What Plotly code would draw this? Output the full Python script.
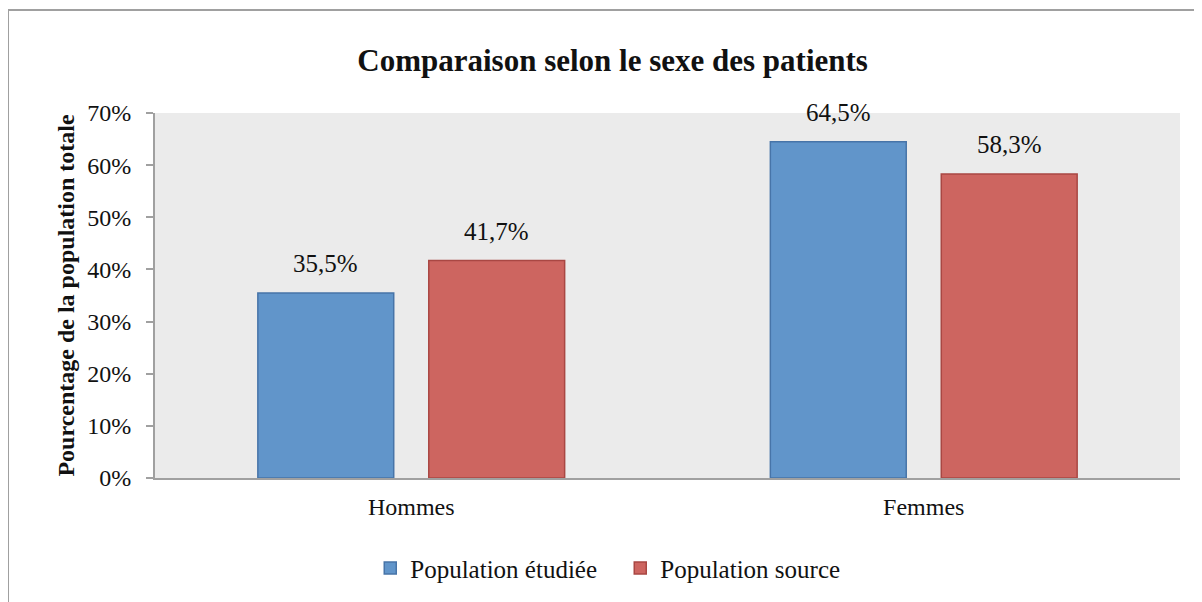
import plotly.graph_objects as go

categories = ["Hommes", "Femmes"]
etudiee = [35.5, 64.5]
source = [41.7, 58.3]
tick_vals = [0, 10, 20, 30, 40, 50, 60, 70]
tick_text = ["0%", "10%", "20%", "30%", "40%", "50%", "60%", "70%"]

FONT = "Liberation Serif"
W, H = 1202, 602
L, R, T, B = 147, 30, 105, 132
BARGAP, GROUPGAP = 0.333, 0.205


def fmt(v):
    return f"{v:.1f}%".replace(".", ",")


fig = go.Figure()

fig.add_trace(go.Bar(
    x=categories, y=etudiee, name="Population étudiée",
    marker=dict(color="#6195CA", line=dict(color="#4774A8", width=1.5)),
))
fig.add_trace(go.Bar(
    x=categories, y=source, name="Population source",
    marker=dict(color="#CD6560", line=dict(color="#A94743", width=1.5)),
))

# labels above bars, shifted onto each bar of the group
cat_w = (W - L - R) / len(categories)
slot = cat_w * (1 - BARGAP) / 2
annotations = []
for series, sign in ((etudiee, -1), (source, 1)):
    for cat, v in zip(categories, series):
        annotations.append(dict(
            x=cat, y=v, xref="x", yref="y", text=fmt(v), showarrow=False,
            xshift=sign * slot / 2, yshift=14, yanchor="bottom",
            font=dict(family=FONT, size=25, color="#111111"),
        ))

fig.update_layout(
    width=W, height=H,
    margin=dict(l=L, r=R, t=T, b=B),
    paper_bgcolor="white", plot_bgcolor="#EBEBEB",
    font=dict(family=FONT, size=24, color="#111111"),
    title=dict(text="<b>Comparaison selon le sexe des patients</b>",
               x=0.503, xanchor="center", y=0.914, yanchor="middle",
               font=dict(family=FONT, size=31, color="#111111")),
    barmode="group", bargap=BARGAP, bargroupgap=GROUPGAP,
    showlegend=True,
    legend=dict(orientation="h", x=0.21, xanchor="left", y=-0.247, yanchor="middle",
                font=dict(family=FONT, size=25), traceorder="normal",
                entrywidth=205, entrywidthmode="pixels"),
    xaxis=dict(showline=True, linecolor="#A0A0A0", linewidth=2, ticks="",
               tickfont=dict(family=FONT, size=24), showgrid=False,
               ticklabelstandoff=6),
    yaxis=dict(range=[0, 70], tickvals=tick_vals, ticktext=tick_text,
               showline=True, linecolor="#A0A0A0", linewidth=2,
               ticks="outside", ticklen=7, tickcolor="#A0A0A0", tickwidth=2,
               showgrid=False, zeroline=False, ticklabelstandoff=10,
               tickfont=dict(family=FONT, size=24),
               title=dict(text="<b>Pourcentage de la population totale</b>",
                          font=dict(family=FONT, size=24), standoff=6)),
    annotations=annotations,
    shapes=[dict(type="rect", xref="paper", yref="paper",
                 x0=-0.1434, x1=1.04, y0=-0.36, y1=1.282,
                 line=dict(color="#A0A0A0", width=2), layer="below")],
)

fig.write_html("out.html")
